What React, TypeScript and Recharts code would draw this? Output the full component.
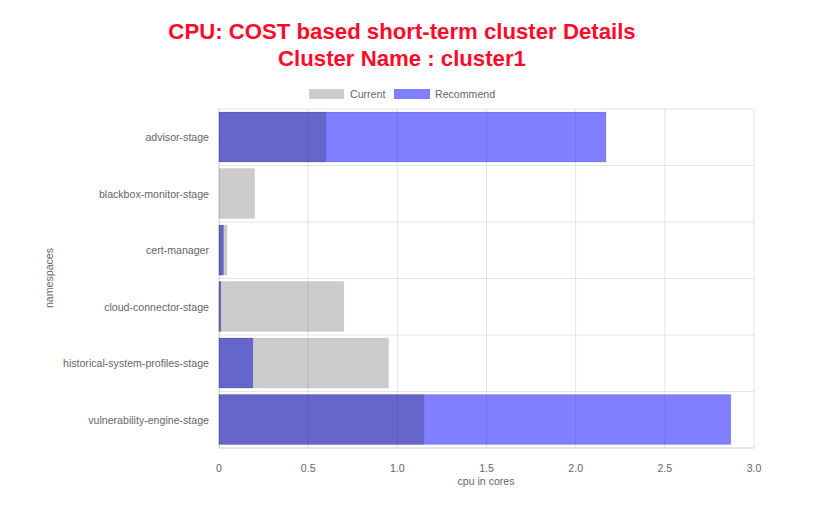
import React from "react";
import { BarChart, Bar, XAxis, YAxis, CartesianGrid } from "recharts";

const namespaces = [
  "advisor-stage",
  "blackbox-monitor-stage",
  "cert-manager",
  "cloud-connector-stage",
  "historical-system-profiles-stage",
  "vulnerability-engine-stage",
];
const currentValues = [0.6, 0.2, 0.045, 0.7, 0.95, 1.15];
const recommendValues = [2.17, 0, 0.025, 0.01, 0.19, 2.87];
const xTicks = [0, 0.5, 1, 1.5, 2, 2.5, 3];

const data = namespaces.map((name, i) => ({
  name,
  current: currentValues[i],
  recommend: recommendValues[i],
}));

const FONT = "'Liberation Sans', Arial, Helvetica, sans-serif";
const GRID = "rgba(0,0,0,0.1)";
const FS = 10.6;

export default function App() {
  return (
    <div style={{ position: "relative", width: 823, height: 507, fontFamily: FONT, background: "#fff" }}>
      <style>{`body{margin:0}`}</style>
      <div
        style={{
          position: "absolute",
          left: 0,
          top: 18,
          width: 804,
          textAlign: "center",
          color: "#ff0a2b",
          fontWeight: "bold",
          fontSize: 22.2,
          lineHeight: "27px",
        }}
      >
        <div>CPU: COST based short-term cluster Details</div>
        <div>Cluster Name : cluster1</div>
      </div>
      <div style={{ position: "absolute", top: 89, left: 309, width: 35, height: 10, background: "rgba(0,0,0,0.2)" }} />
      <div style={{ position: "absolute", top: 87, left: 350, fontSize: FS, color: "#666", lineHeight: "14px" }}>Current</div>
      <div style={{ position: "absolute", top: 89, left: 394, width: 36, height: 10, background: "rgba(0,0,255,0.5)" }} />
      <div style={{ position: "absolute", top: 87, left: 435, fontSize: FS, color: "#666", lineHeight: "14px" }}>Recommend</div>
      <div
        style={{
          position: "absolute",
          left: 49,
          top: 278,
          transform: "translate(-50%,-50%) rotate(-90deg)",
          fontSize: FS,
          color: "#666",
          whiteSpace: "nowrap",
        }}
      >
        namespaces
      </div>
      <div
        style={{
          position: "absolute",
          left: 486,
          top: 481,
          transform: "translate(-50%,-50%)",
          fontSize: FS,
          color: "#666",
          whiteSpace: "nowrap",
        }}
      >
        cpu in cores
      </div>
      <div style={{ position: "absolute", left: 0, top: 0 }}>
        <BarChart
          width={823}
          height={507}
          data={data}
          layout="vertical"
          margin={{ top: 109, right: 69, bottom: 29, left: 0 }}
          barCategoryGap="5.5%"
        >
          <CartesianGrid
            stroke={GRID}
            strokeWidth={1}
            horizontalCoordinatesGenerator={(props: any) => {
              const off = props.offset || {};
              const top = off.top ?? 109;
              const h = off.height ?? 339;
              const n = namespaces.length;
              const pts: number[] = [];
              for (let i = 0; i <= n; i++) pts.push(top + (i * h) / n);
              return pts;
            }}
          />
          <XAxis
            type="number"
            domain={[0, 3]}
            ticks={xTicks}
            tickFormatter={(v: number) => (v === 0 ? "0" : v.toFixed(1))}
            axisLine={{ stroke: GRID }}
            tickLine={false}
            tickMargin={10}
            tick={{ fill: "#666", fontSize: FS, fontFamily: FONT }}
            height={30}
          />
          <YAxis
            yAxisId="a"
            type="category"
            dataKey="name"
            width={219}
            axisLine={{ stroke: GRID }}
            tickLine={false}
            tickMargin={4}
            tick={{ fill: "#666", fontSize: FS, fontFamily: FONT }}
          />
          <YAxis yAxisId="b" type="category" dataKey="name" hide />
          <Bar
            yAxisId="b"
            dataKey="recommend"
            name="Recommend"
            fill="rgba(0,0,255,0.5)"
            stroke="rgba(0,0,0,0.1)"
            strokeWidth={1}
            isAnimationActive={false}
          />
          <Bar
            yAxisId="a"
            dataKey="current"
            name="Current"
            fill="rgba(0,0,0,0.2)"
            stroke="rgba(0,0,0,0.05)"
            strokeWidth={1}
            isAnimationActive={false}
          />
        </BarChart>
      </div>
    </div>
  );
}
